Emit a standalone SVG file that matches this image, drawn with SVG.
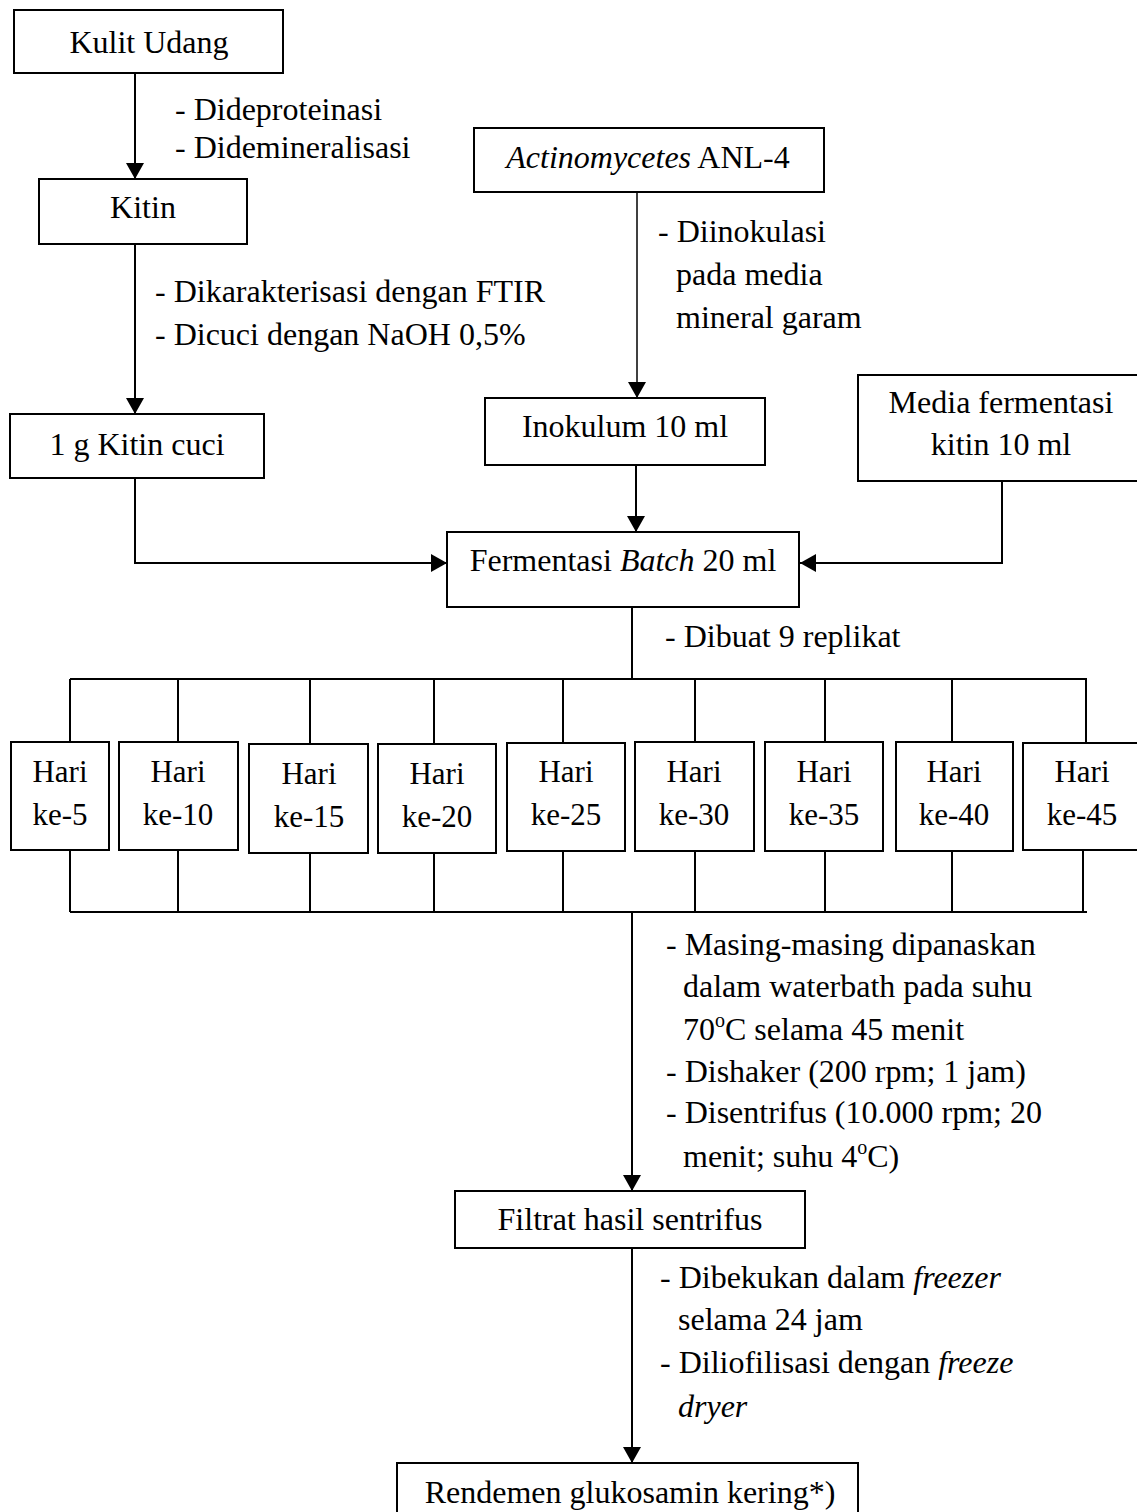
<svg xmlns="http://www.w3.org/2000/svg" width="1137" height="1512" viewBox="0 0 1137 1512">
<style>
text{font-family:"Liberation Serif","Times New Roman",serif;font-size:32px;fill:#000}
.c{text-anchor:middle}
.h{font-size:31px}
.i{font-style:italic}
.box{fill:#fff;stroke:#000;stroke-width:2}
.ln{fill:none;stroke:#000;stroke-width:2}
.thin{stroke-width:1.5}
.sup{font-size:20px}
</style>
<defs>
<marker id="ah" viewBox="0 0 16 18" refX="16" refY="9" markerWidth="16" markerHeight="18" markerUnits="userSpaceOnUse" orient="auto">
<path d="M0,0 L16,9 L0,18 z" fill="#000"/>
</marker>
</defs>
<rect width="1137" height="1512" fill="#fff"/>
<g id="connectors">
<line class="ln" x1="135" y1="73" x2="135" y2="179" marker-end="url(#ah)"/>
<line class="ln" x1="135" y1="244" x2="135" y2="414" marker-end="url(#ah)"/>
<line class="ln thin" x1="637" y1="192" x2="637" y2="398" marker-end="url(#ah)"/>
<line class="ln" x1="636" y1="465" x2="636" y2="532" marker-end="url(#ah)"/>
<polyline class="ln" points="135,478 135,563 447,563" marker-end="url(#ah)"/>
<polyline class="ln" points="1002,481 1002,563 800,563" marker-end="url(#ah)"/>
<line class="ln" x1="632" y1="607" x2="632" y2="679"/>
<line class="ln" x1="70" y1="679" x2="1087" y2="679"/>
<path class="ln" d="M70,679V742M178,679V742M310,679V744M434,679V744M563,679V743M695,679V742M825,679V742M952,679V742M1086,679V743"/>
<path class="ln" d="M70,850V912M178,850V912M310,853V912M434,853V912M563,851V912M695,851V912M825,851V912M952,851V912M1083,850V912"/>
<line class="ln" x1="70" y1="912" x2="1087" y2="912"/>
<line class="ln" x1="632" y1="912" x2="632" y2="1191" marker-end="url(#ah)"/>
<line class="ln" x1="632" y1="1248" x2="632" y2="1463" marker-end="url(#ah)"/>
</g>
<g id="kulit-udang"><rect class="box" x="14" y="10" width="269" height="63"/><text class="c" x="149" y="53">Kulit Udang</text></g>
<g id="label-deprot"><text x="175" y="120">- Dideproteinasi</text><text x="175" y="158">- Didemineralisasi</text></g>
<g id="kitin"><rect class="box" x="39" y="179" width="208" height="65"/><text class="c" x="143" y="218">Kitin</text></g>
<g id="label-ftir"><text x="155" y="302">- Dikarakterisasi dengan FTIR</text><text x="155" y="345">- Dicuci dengan NaOH 0,5%</text></g>
<g id="kitin-cuci"><rect class="box" x="10" y="414" width="254" height="64"/><text class="c" x="137" y="455">1 g Kitin cuci</text></g>
<g id="actinomycetes"><rect class="box" x="474" y="128" width="350" height="64"/><text class="c" x="648" y="168"><tspan class="i">Actinomycetes</tspan> ANL-4</text></g>
<g id="label-inokulasi"><text x="658" y="242">- Diinokulasi</text><text x="676" y="285">pada media</text><text x="676" y="328">mineral garam</text></g>
<g id="inokulum"><rect class="box" x="485" y="398" width="280" height="67"/><text class="c" x="625" y="437">Inokulum 10 ml</text></g>
<g id="media-fermentasi"><rect class="box" x="858" y="375" width="290" height="106"/><text class="c" x="1001" y="413">Media fermentasi</text><text class="c" x="1001" y="455">kitin 10 ml</text></g>
<g id="fermentasi-batch"><rect class="box" x="447" y="532" width="352" height="75"/><text class="c" x="623" y="571">Fermentasi <tspan class="i">Batch</tspan> 20 ml</text></g>
<g id="label-replikat"><text x="665" y="647">- Dibuat 9 replikat</text></g>
<g id="hari-5"><rect class="box" x="11" y="742" width="98" height="108"/><text class="c h" x="60" y="782">Hari</text><text class="c h" x="60" y="825">ke-5</text></g>
<g id="hari-10"><rect class="box" x="119" y="742" width="119" height="108"/><text class="c h" x="178" y="782">Hari</text><text class="c h" x="178" y="825">ke-10</text></g>
<g id="hari-15"><rect class="box" x="249" y="744" width="119" height="109"/><text class="c h" x="309" y="784">Hari</text><text class="c h" x="309" y="827">ke-15</text></g>
<g id="hari-20"><rect class="box" x="378" y="744" width="118" height="109"/><text class="c h" x="437" y="784">Hari</text><text class="c h" x="437" y="827">ke-20</text></g>
<g id="hari-25"><rect class="box" x="507" y="743" width="118" height="108"/><text class="c h" x="566" y="782">Hari</text><text class="c h" x="566" y="825">ke-25</text></g>
<g id="hari-30"><rect class="box" x="635" y="742" width="119" height="109"/><text class="c h" x="694" y="782">Hari</text><text class="c h" x="694" y="825">ke-30</text></g>
<g id="hari-35"><rect class="box" x="765" y="742" width="118" height="109"/><text class="c h" x="824" y="782">Hari</text><text class="c h" x="824" y="825">ke-35</text></g>
<g id="hari-40"><rect class="box" x="896" y="742" width="117" height="109"/><text class="c h" x="954" y="782">Hari</text><text class="c h" x="954" y="825">ke-40</text></g>
<g id="hari-45"><rect class="box" x="1023" y="743" width="122" height="107"/><text class="c h" x="1082" y="782">Hari</text><text class="c h" x="1082" y="825">ke-45</text></g>
<g id="label-proses"><text x="666" y="955">- Masing-masing dipanaskan</text><text x="683" y="997">dalam waterbath pada suhu</text><text x="683" y="1040">70<tspan class="sup" dy="-13">o</tspan><tspan dy="13">C selama 45 menit</tspan></text><text x="666" y="1082">- Dishaker (200 rpm; 1 jam)</text><text x="666" y="1123">- Disentrifus (10.000 rpm; 20</text><text x="683" y="1167">menit; suhu 4<tspan class="sup" dy="-13">o</tspan><tspan dy="13">C)</tspan></text></g>
<g id="filtrat"><rect class="box" x="455" y="1191" width="350" height="57"/><text class="c" x="630" y="1230">Filtrat hasil sentrifus</text></g>
<g id="label-freeze"><text x="660" y="1288">- Dibekukan dalam <tspan class="i">freezer</tspan></text><text x="678" y="1330">selama 24 jam</text><text x="660" y="1373">- Diliofilisasi dengan <tspan class="i">freeze</tspan></text><text x="678" y="1417" class="i">dryer</text></g>
<g id="rendemen"><rect class="box" x="397" y="1463" width="461" height="70"/><text class="c" x="630" y="1503">Rendemen glukosamin kering*)</text></g>
</svg>
